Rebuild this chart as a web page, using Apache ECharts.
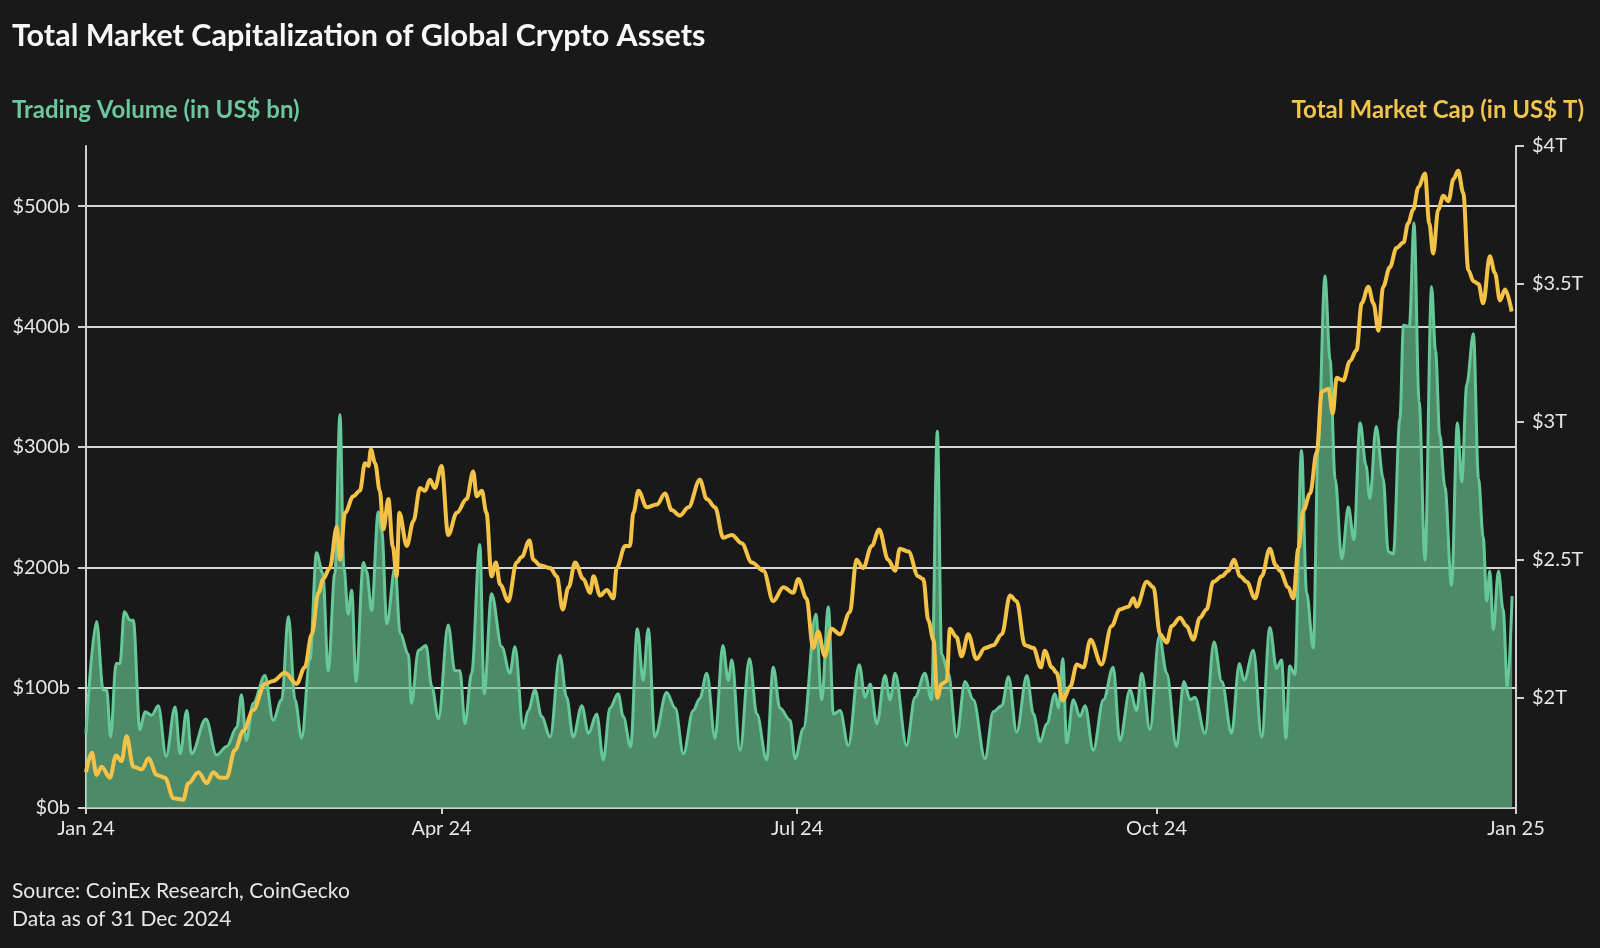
<!DOCTYPE html>
<html>
<head>
<meta charset="utf-8">
<title>Total Market Capitalization of Global Crypto Assets</title>
<script src="https://cdn.jsdelivr.net/npm/echarts@6.0.0/dist/echarts.min.js"></script>
<style>
  html, body { margin: 0; padding: 0; background: #191919; }
  #chart { width: 1600px; height: 948px; }
</style>
</head>
<body>
<div id="chart"></div>
<script>
// x = days since 1 Jan 2024
const volume = [
  [0, 62], [2.7, 155], [4.4, 98], [5.3, 98], [6.3, 59], [7.7, 120], [8.7, 120], [9.8, 163],
  [11.3, 156], [12.1, 156], [13.8, 65], [15.1, 80], [16.8, 77], [18.5, 85], [20.5, 43], [22.8, 84],
  [24.1, 45], [25.8, 81], [27, 45], [30.7, 74], [33.4, 44], [36, 51], [38.6, 67], [39.8, 94],
  [41, 56], [42.8, 87], [45.8, 110], [47.9, 73], [50.1, 90], [51.8, 159], [53.5, 90], [55.2, 58],
  [57.3, 123], [59, 212], [60.6, 195], [62, 114], [63.7, 195], [65, 327], [66, 200], [67.1, 161],
  [68, 181], [69.1, 105], [71, 204], [71.8, 197], [73.1, 164], [74.8, 246], [75.7, 230], [77, 153],
  [79.1, 200], [80.4, 145], [82.5, 128], [83.3, 87], [85.1, 131], [87, 135], [88.5, 101], [90.2, 74],
  [92.7, 152], [94.4, 114], [95.7, 114], [97, 70], [98.7, 112], [100.8, 219], [101.9, 95], [103.8, 178],
  [106.4, 134], [108.5, 112], [109.8, 134], [111.9, 66], [113.2, 81], [114.9, 98], [116.6, 76], [118.8, 59],
  [121.3, 127], [123, 92], [124.7, 59], [126.9, 85], [128.6, 62], [130.7, 78], [132.4, 40], [134.1, 83],
  [136.2, 95], [137.5, 76], [139.4, 51], [141.1, 149], [142.6, 106], [143.9, 149], [145.6, 59], [148.6, 96],
  [150.8, 83], [152.9, 45], [155.4, 81], [157.1, 91], [158.9, 112], [161, 58], [163, 135], [164.4, 106],
  [165.3, 123], [167.4, 48], [169.8, 124], [171.7, 78], [174.2, 40], [175.9, 117], [177.6, 83], [180.2, 73],
  [181.5, 41], [183.6, 66], [186.8, 161], [188.3, 90], [190, 167], [191.3, 78], [193, 81], [195.1, 52],
  [197.9, 119], [199.4, 92], [200.7, 103], [202.4, 70], [204.5, 110], [205.8, 90], [207.1, 112], [210, 52],
  [212.2, 92], [214.7, 112], [216.4, 90], [217.9, 313], [219, 128], [220.7, 112], [222.8, 59], [225, 105],
  [227.1, 90], [230.1, 41], [232.2, 80], [234.4, 85], [236.1, 109], [238.2, 63], [240.8, 110], [242.5, 78],
  [244.2, 55], [245.9, 70], [248, 95], [248.9, 83], [250, 124], [251, 54], [252.7, 90], [254.4, 76],
  [255.7, 85], [257.8, 48], [260.4, 90], [262.9, 117], [264.6, 56], [267.2, 98], [268.9, 81], [270.2, 112],
  [272.3, 65], [274.7, 143], [276.6, 112], [279.1, 51], [281, 105], [282.6, 90], [283.8, 92], [286.4, 62],
  [288.7, 138], [290.7, 105], [293.2, 62], [295.2, 120], [296.4, 106], [298.8, 131], [300.9, 59], [303, 150],
  [304.7, 116], [306, 123], [307.1, 58], [308.1, 118], [309.4, 111], [311.1, 297], [312.4, 179], [314.1, 133],
  [315.4, 303], [317.1, 442], [318.4, 373], [319.7, 274], [321.4, 207], [323.1, 250], [324.5, 223], [326.1, 320],
  [327.6, 285], [328.6, 257], [330.2, 317], [332, 274], [333.3, 213], [334.6, 211], [336.3, 324], [337.2, 401],
  [338.7, 400], [339.9, 486], [341.2, 338], [342.7, 206], [344.4, 433], [345.4, 380], [346.5, 310], [347.8, 267],
  [349.5, 185], [351, 320], [352.1, 271], [353.4, 352], [355.1, 394], [356.4, 274], [357.6, 225], [358.5, 172],
  [359.3, 197], [360.2, 148], [361.5, 197], [362.7, 165], [363.8, 100], [365, 176]
];

const marketCap = [
  [0, 1.73], [1.5, 1.80], [2.7, 1.72], [4, 1.75], [6.1, 1.71], [7.7, 1.79], [9.1, 1.77], [10.4, 1.86],
  [12.1, 1.75], [14.3, 1.74], [16, 1.78], [18.1, 1.72], [20.2, 1.71], [22.4, 1.635], [24.9, 1.63], [26.2, 1.69],
  [28.8, 1.73], [30.9, 1.69], [32.6, 1.73], [34.3, 1.71], [36, 1.71], [38.1, 1.81], [40.3, 1.88], [42.8, 1.955],
  [45.8, 2.05], [47.9, 2.06], [50.9, 2.09], [53.9, 2.05], [56, 2.11], [57.8, 2.23], [59.5, 2.38], [60.7, 2.43],
  [62.4, 2.47], [64.2, 2.62], [65, 2.50], [66.3, 2.67], [68.4, 2.73], [70.1, 2.75], [71.4, 2.85], [72.3, 2.84],
  [72.9, 2.90], [74, 2.85], [75.2, 2.75], [76.1, 2.61], [77.4, 2.72], [78.5, 2.55], [79.5, 2.44], [80.2, 2.67],
  [82.1, 2.55], [83.8, 2.64], [85.5, 2.76], [86.8, 2.75], [88, 2.79], [89.3, 2.76], [91, 2.84], [92.7, 2.59],
  [94.9, 2.67], [97.4, 2.72], [99.1, 2.82], [100, 2.73], [101.3, 2.75], [102.5, 2.67], [103.8, 2.44], [104.9, 2.49],
  [106, 2.41], [108.1, 2.35], [110.2, 2.49], [111.5, 2.51], [113.5, 2.57], [114.5, 2.50], [116.2, 2.48], [118.8, 2.47],
  [120.5, 2.44], [122, 2.32], [123.5, 2.40], [125.2, 2.49], [127.3, 2.43], [129, 2.38], [129.9, 2.44], [131.6, 2.37],
  [133.3, 2.39], [135, 2.36], [135.8, 2.47], [138, 2.55], [139.2, 2.55], [140.1, 2.67], [141.4, 2.75], [143.5, 2.69],
  [146.1, 2.70], [148.2, 2.74], [149.9, 2.68], [152, 2.66], [154.2, 2.69], [157.1, 2.79], [158.9, 2.72], [161, 2.69],
  [163.1, 2.58], [165.3, 2.59], [167.8, 2.56], [170.4, 2.49], [173.4, 2.46], [175.9, 2.35], [178.5, 2.40], [181, 2.38],
  [182.3, 2.43], [184.4, 2.36], [186.1, 2.18], [187.4, 2.24], [189.1, 2.15], [190.8, 2.25], [193, 2.23], [195.5, 2.31],
  [197.2, 2.50], [198.9, 2.47], [201.1, 2.55], [203, 2.61], [205.3, 2.50], [207.1, 2.46], [208.3, 2.54], [210.5, 2.53],
  [213, 2.44], [214.3, 2.43], [215.6, 2.28], [216.9, 2.21], [217.9, 2.00], [219, 2.05], [220.3, 2.06], [221.1, 2.25],
  [222.8, 2.22], [224.1, 2.15], [225.8, 2.23], [227.9, 2.14], [230.1, 2.18], [232.2, 2.19], [234.4, 2.23], [236.5, 2.37],
  [238.2, 2.35], [240.3, 2.19], [242.5, 2.18], [244.4, 2.11], [245.4, 2.17], [247.2, 2.11], [248.4, 2.09], [250, 1.99],
  [251.9, 2.04], [253.6, 2.12], [255.3, 2.11], [257.1, 2.21], [259.9, 2.12], [262.5, 2.26], [264.6, 2.32], [266.8, 2.33],
  [268.1, 2.36], [268.9, 2.33], [271.5, 2.42], [273.2, 2.40], [274.9, 2.23], [276.6, 2.20], [277.9, 2.26], [280, 2.29],
  [281.7, 2.26], [283.4, 2.21], [285.1, 2.29], [286.8, 2.32], [288.5, 2.42], [290.7, 2.44], [292.4, 2.46], [293.8, 2.50],
  [295.4, 2.44], [297.1, 2.42], [299.2, 2.36], [300.9, 2.44], [303, 2.54], [304.5, 2.48], [305.6, 2.46], [307.7, 2.40],
  [309, 2.36], [310.3, 2.54], [311.6, 2.68], [313.3, 2.74], [315, 2.89], [316.3, 3.11], [318, 3.12], [319.1, 3.03],
  [320.1, 3.16], [321.8, 3.15], [323.5, 3.22], [325.2, 3.26], [326.5, 3.43], [328.2, 3.49], [329.5, 3.43], [330.8, 3.33],
  [332, 3.49], [333.7, 3.56], [335.4, 3.63], [337.2, 3.65], [338.4, 3.72], [339.7, 3.77], [341, 3.85], [342.7, 3.90],
  [343.8, 3.72], [344.8, 3.61], [346.1, 3.77], [347.4, 3.82], [348.7, 3.80], [350, 3.88], [351.2, 3.91], [352.5, 3.83],
  [353.8, 3.55], [355.1, 3.51], [356.4, 3.50], [357.6, 3.43], [359.3, 3.60], [360.6, 3.54], [361.9, 3.44], [363.2, 3.48],
  [364.9, 3.40]
];

const monthDays = [0, 91, 182, 274, 366];
const monthLabels = ['Jan 24', 'Apr 24', 'Jul 24', 'Oct 24', 'Jan 25'];
const volumeTicks = [0, 100, 200, 300, 400, 500];
const capTicks = [2, 2.5, 3, 3.5, 4];

const FONT = 'Lato, "Noto Sans", sans-serif';
const AXIS = '#cfcfcf';
const LABEL = '#e6e6e6';

const chart = echarts.init(document.getElementById('chart'));

const option = {
  backgroundColor: '#191919',
  animation: false,
  textStyle: { fontFamily: FONT },
  grid: { left: 86, right: 84, top: 146, bottom: 140 },
  graphic: [
    {
      type: 'text', x: 12, y: 36,
      style: { text: 'Total Market Capitalization of Global Crypto Assets', fill: '#f7f7f7',
        font: 'bold 30.5px ' + FONT, verticalAlign: 'middle' }
    },
    {
      type: 'text', x: 12, y: 110,
      style: { text: 'Trading Volume (in US$ bn)', fill: '#6cc79c',
        font: 'bold 24px ' + FONT, verticalAlign: 'middle' }
    },
    {
      type: 'text', x: 1584, y: 110,
      style: { text: 'Total Market Cap (in US$ T)', fill: '#f2c34e',
        font: 'bold 24px ' + FONT, align: 'right', verticalAlign: 'middle' }
    },
    {
      type: 'text', x: 12, y: 891,
      style: { text: 'Source: CoinEx Research, CoinGecko', fill: '#e6e6e6',
        font: '21px ' + FONT, verticalAlign: 'middle' }
    },
    {
      type: 'text', x: 12, y: 919,
      style: { text: 'Data as of 31 Dec 2024', fill: '#e6e6e6',
        font: '21px ' + FONT, verticalAlign: 'middle' }
    }
  ],
  xAxis: {
    type: 'value',
    min: 0,
    max: 366,
    axisLine: { show: true, lineStyle: { color: AXIS, width: 2 } },
    axisTick: { show: true, length: 6, customValues: monthDays, lineStyle: { color: AXIS, width: 2 } },
    axisLabel: {
      customValues: monthDays,
      color: LABEL, fontSize: 20, margin: 11,
      formatter: (v) => monthLabels[monthDays.indexOf(v)]
    },
    splitLine: { show: false }
  },
  yAxis: [
    {
      type: 'value',
      position: 'left',
      min: 0,
      max: 550,
      interval: 100,
      axisLine: { show: true, lineStyle: { color: AXIS, width: 2 } },
      axisTick: { show: true, length: 8, customValues: volumeTicks, lineStyle: { color: AXIS, width: 2 } },
      axisLabel: {
        customValues: volumeTicks,
        color: LABEL, fontSize: 20, margin: 16,
        formatter: (v) => '$' + v + 'b'
      },
      splitLine: { show: true, showMinLine: false, showMaxLine: true, lineStyle: { color: '#d6d6d6', width: 2 } }
    },
    {
      type: 'value',
      position: 'right',
      min: 1.6,
      max: 4,
      axisLine: { show: true, lineStyle: { color: AXIS, width: 2 } },
      axisTick: { show: true, length: 8, customValues: capTicks, lineStyle: { color: AXIS, width: 2 } },
      axisLabel: {
        customValues: capTicks,
        color: LABEL, fontSize: 20, margin: 16,
        formatter: (v) => '$' + v + 'T'
      },
      splitLine: { show: false }
    }
  ],
  series: [
    {
      name: 'Trading Volume',
      type: 'line',
      yAxisIndex: 0,
      data: volume,
      smooth: 0.35,
      smoothMonotone: 'x',
      showSymbol: false,
      lineStyle: { color: '#66c898', width: 3 },
      areaStyle: { color: 'rgba(100, 192, 142, 0.68)', opacity: 1 },
      z: 2
    },
    {
      name: 'Total Market Cap',
      type: 'line',
      yAxisIndex: 1,
      data: marketCap,
      smooth: 0.35,
      smoothMonotone: 'x',
      showSymbol: false,
      lineStyle: { color: '#f4c247', width: 4 },
      z: 3
    }
  ]
};

chart.setOption(option);
</script>
</body>
</html>
